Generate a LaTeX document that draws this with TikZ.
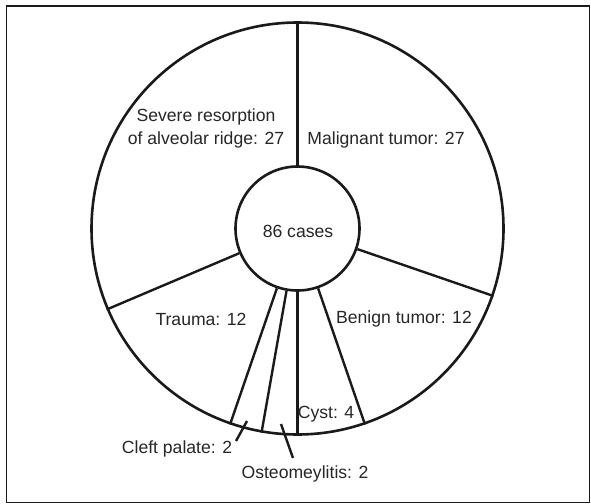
\documentclass[tikz,border=0pt]{standalone}
\usepackage{fontspec}
\setmainfont{Liberation Sans}
\definecolor{txt}{HTML}{262626}
\definecolor{ln}{HTML}{1A1A1A}
\begin{document}
\begin{tikzpicture}[x=1pt,y=-1pt,
  lbl/.style={font=\fontsize{17.6}{23}\selectfont, text=txt, inner sep=0pt, align=center},
  seg/.style={line width=2.4pt, draw=ln},
  ring/.style={circle, draw=ln, line width=2.6pt, inner sep=0pt}]
\useasboundingbox (0,0) rectangle (591,503);
\draw[line width=1.6pt, draw=ln] (6.5,6) rectangle (589.5,502.5);
\node[ring, minimum size=412pt] (outer) at (297.5,228.5) {};
\node[ring, minimum size=124pt, fill=white] (inner) at (297.5,228.5) {};
\node[lbl, anchor=base] (total) at (298,237) {86 cases};
\foreach \a in {90,-19,-71.5,-90,-100,-109,203}
  \draw[seg] (inner.\a) -- (outer.\a);
\node[lbl] (severe) at (206,128) {Severe resorption\\of alveolar ridge: 27};
\node[lbl, anchor=base] (malig) at (386,144.3) {Malignant tumor: 27};
\node[lbl, anchor=base] (trauma) at (201,325.3) {Trauma: 12};
\node[lbl, anchor=base] (benign) at (404,323.3) {Benign tumor: 12};
\node[lbl, anchor=base] (cyst) at (326,418.3) {Cyst: 4};
\node[lbl, anchor=base] (cleft) at (177,453.3) {Cleft palate: 2};
\node[lbl, anchor=base] (osteo) at (305,478.3) {Osteomeylitis: 2};
\coordinate (cleftTip) at (247,421);
\coordinate (cleftEnd) at (236,441);
\coordinate (osteoTip) at (281,424);
\coordinate (osteoEnd) at (293,458);
\draw[seg] (cleftTip) -- (cleftEnd);
\draw[seg] (osteoTip) -- (osteoEnd);
\end{tikzpicture}
\end{document}
